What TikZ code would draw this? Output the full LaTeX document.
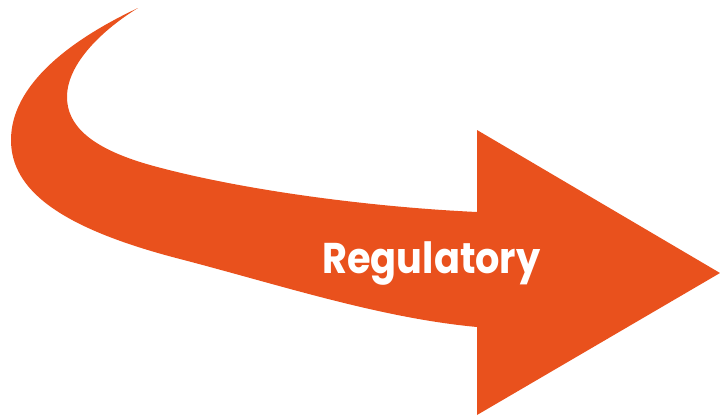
\documentclass[tikz,border=0pt]{standalone}
\usepackage{fontspec}
\setmainfont{Poppins}
\newfontfamily\regfont[FakeStretch=0.89]{Poppins}
\usepackage{tikz}
\definecolor{regOrange}{RGB}{233,81,29}

\begin{document}
\begin{tikzpicture}[
  x=1pt, y=-1pt,
  arw/.style={fill=regOrange, draw=none},
  lbl/.style={text=white, font=\regfont\fontsize{43}{45}\selectfont\bfseries, inner sep=0pt}
]
\useasboundingbox (0,0) rectangle (720,418);
% curved body with head
\fill[arw] (138,8) .. controls (70,40) and (11,85) .. (11,140)
  .. controls (11,190) and (60,228) .. (180,259)
  .. controls (280,285) and (380,318) .. (477,327)
  -- (477,415) -- (720,273) -- (477,130) -- (477,212)
  .. controls (370,207) and (240,190) .. (150,165)
  .. controls (90,148) and (67,125) .. (67,97)
  .. controls (67,60) and (110,25) .. cycle;
\node[lbl, anchor=base] (reg) at (431.5,273) {Regulatory};
\end{tikzpicture}
\end{document}
